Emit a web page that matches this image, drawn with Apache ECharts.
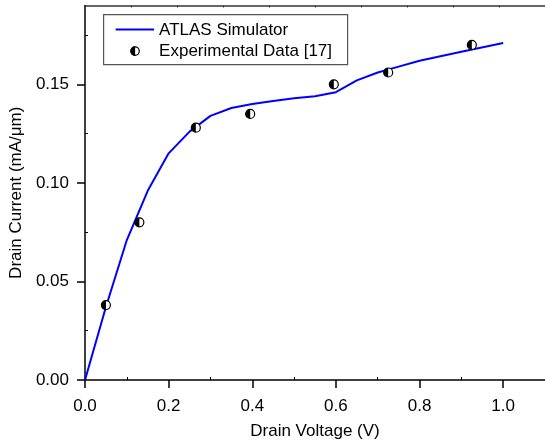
<!DOCTYPE html>
<html>
<head>
<meta charset="utf-8">
<script src="https://cdn.jsdelivr.net/npm/echarts@6/dist/echarts.min.js"></script>
<style>
  html, body { margin: 0; padding: 0; background: #fff; }
  #chart { width: 545px; height: 445px; }
</style>
</head>
<body>
<div id="chart"></div>
<script>
// ATLAS simulated drain current vs drain voltage
const simVoltage = [0, 0.05, 0.1, 0.15, 0.2, 0.25, 0.3, 0.35, 0.4, 0.45, 0.5, 0.55, 0.6, 0.65, 0.7, 0.75, 0.8, 0.9, 1.0];
const simCurrent = [0, 0.037, 0.071, 0.096, 0.115, 0.126, 0.134, 0.138, 0.140, 0.1415, 0.143, 0.144, 0.146, 0.152, 0.156, 0.159, 0.162, 0.1665, 0.171];

// Measured points, reference [17]
const expVoltage = [0.05, 0.13, 0.265, 0.395, 0.595, 0.725, 0.925];
const expCurrent = [0.038, 0.080, 0.128, 0.135, 0.150, 0.156, 0.170];

// Axis ticks
const xTicks = [0, 0.2, 0.4, 0.6, 0.8, 1.0];
const xMinorTicks = [0.1, 0.3, 0.5, 0.7, 0.9];
const yTicks = [0, 0.05, 0.10, 0.15];
const yMinorTicks = [0.025, 0.075, 0.125, 0.175];

const legendNames = ['ATLAS Simulator', 'Experimental Data [17]'];

const FONT = 'Arial, "Liberation Sans", sans-serif';
const simPairs = simVoltage.map((v, i) => [v, simCurrent[i]]);
const expPairs = expVoltage.map((v, i) => [v, expCurrent[i]]);

const chart = echarts.init(document.getElementById('chart'), null, { renderer: 'canvas' });

const baseX = {
  type: 'value', min: 0, max: 1.1, gridIndex: 0,
  splitLine: { show: false }
};
const baseY = {
  type: 'value', min: 0, max: 0.19, gridIndex: 0,
  splitLine: { show: false }
};

chart.setOption({
  backgroundColor: '#fff',
  animation: false,
  grid: { left: 85, top: 5.5, width: 463.4, height: 377.2, containLabel: false },
  xAxis: [
    Object.assign({}, baseX, {
      position: 'bottom',
      name: 'Drain Voltage (V)',
      nameLocation: 'middle',
      nameGap: 43,
      nameTextStyle: { fontFamily: FONT, fontSize: 17, color: '#000' },
      axisLine: { show: true, lineStyle: { color: '#000', width: 1.5 } },
      axisTick: { show: true, inside: false, length: 8, customValues: xTicks, lineStyle: { color: '#000', width: 1.5 } },
      axisLabel: { show: true, margin: 18, customValues: xTicks, fontFamily: FONT, fontSize: 17, color: '#000',
        formatter: v => v.toFixed(1) }
    }),
    Object.assign({}, baseX, {
      position: 'bottom',
      axisLine: { show: false },
      axisTick: { show: true, inside: true, length: 3, customValues: xMinorTicks, lineStyle: { color: '#000', width: 1 } },
      axisLabel: { show: false }
    }),
    {
      type: 'value', min: 0, max: 10, interval: 1, gridIndex: 0, position: 'top',
      splitLine: { show: false },
      axisLine: { show: true, lineStyle: { color: '#333', width: 1.5 } },
      axisTick: { show: true, inside: true, length: 2, lineStyle: { color: '#333', width: 1 } },
      axisLabel: { show: false }
    }
  ],
  yAxis: [
    Object.assign({}, baseY, {
      position: 'left',
      name: 'Drain Current (mA/\u03bcm)',
      nameLocation: 'middle',
      nameGap: 60,
      nameTextStyle: { fontFamily: FONT, fontSize: 17, color: '#000' },
      axisLine: { show: true, lineStyle: { color: '#000', width: 1.5 } },
      axisTick: { show: true, inside: false, length: 8, customValues: yTicks, lineStyle: { color: '#000', width: 1.5 } },
      axisLabel: { show: true, margin: 16, customValues: yTicks, fontFamily: FONT, fontSize: 17, color: '#000',
        formatter: v => v.toFixed(2) }
    }),
    Object.assign({}, baseY, {
      position: 'left',
      axisLine: { show: false },
      axisTick: { show: true, inside: true, length: 3, customValues: yMinorTicks, lineStyle: { color: '#000', width: 1 } },
      axisLabel: { show: false }
    })
  ],
  series: [
    {
      name: legendNames[0],
      type: 'line',
      xAxisIndex: 0, yAxisIndex: 0,
      data: simPairs,
      symbol: 'none',
      lineStyle: { color: '#0000ff', width: 2 },
      z: 2
    },
    {
      // outlined circle (right half stays white)
      name: legendNames[1],
      type: 'scatter',
      xAxisIndex: 0, yAxisIndex: 0,
      data: expPairs,
      symbol: 'circle',
      symbolSize: 9,
      itemStyle: { color: '#fff', borderColor: '#000', borderWidth: 1.2, opacity: 1 },
      z: 3
    },
    {
      // filled left half of the marker
      name: legendNames[1],
      type: 'scatter',
      xAxisIndex: 0, yAxisIndex: 0,
      data: expPairs,
      symbol: 'path://M10,0 A10,10 0 0,0 10,20 Z',
      symbolSize: [4.5, 9],
      symbolOffset: [-2.25, 0],
      itemStyle: { color: '#000', opacity: 1 },
      z: 4
    }
  ],
  graphic: [
    {
      type: 'group',
      left: 103, top: 14,
      children: [
        { type: 'rect', shape: { x: 0.5, y: 0.5, width: 244, height: 50 },
          style: { fill: '#fff', stroke: '#555', lineWidth: 1.2 } },
        { type: 'line', shape: { x1: 12.5, y1: 15.5, x2: 51, y2: 15.5 },
          style: { stroke: '#0000ff', lineWidth: 2 } },
        { type: 'text', x: 56, y: 16,
          style: { text: legendNames[0], font: '17px ' + FONT, fill: '#000', verticalAlign: 'middle' } },
        { type: 'circle', shape: { cx: 32, cy: 37, r: 4.2 },
          style: { fill: '#fff', stroke: '#000', lineWidth: 1.2 } },
        { type: 'sector', shape: { cx: 32, cy: 37, r: 4.8, r0: 0, startAngle: Math.PI / 2, endAngle: Math.PI * 1.5, clockwise: true },
          style: { fill: '#000' } },
        { type: 'text', x: 56, y: 37,
          style: { text: legendNames[1], font: '17px ' + FONT, fill: '#000', verticalAlign: 'middle' } }
      ]
    }
  ]
});
</script>
</body>
</html>
